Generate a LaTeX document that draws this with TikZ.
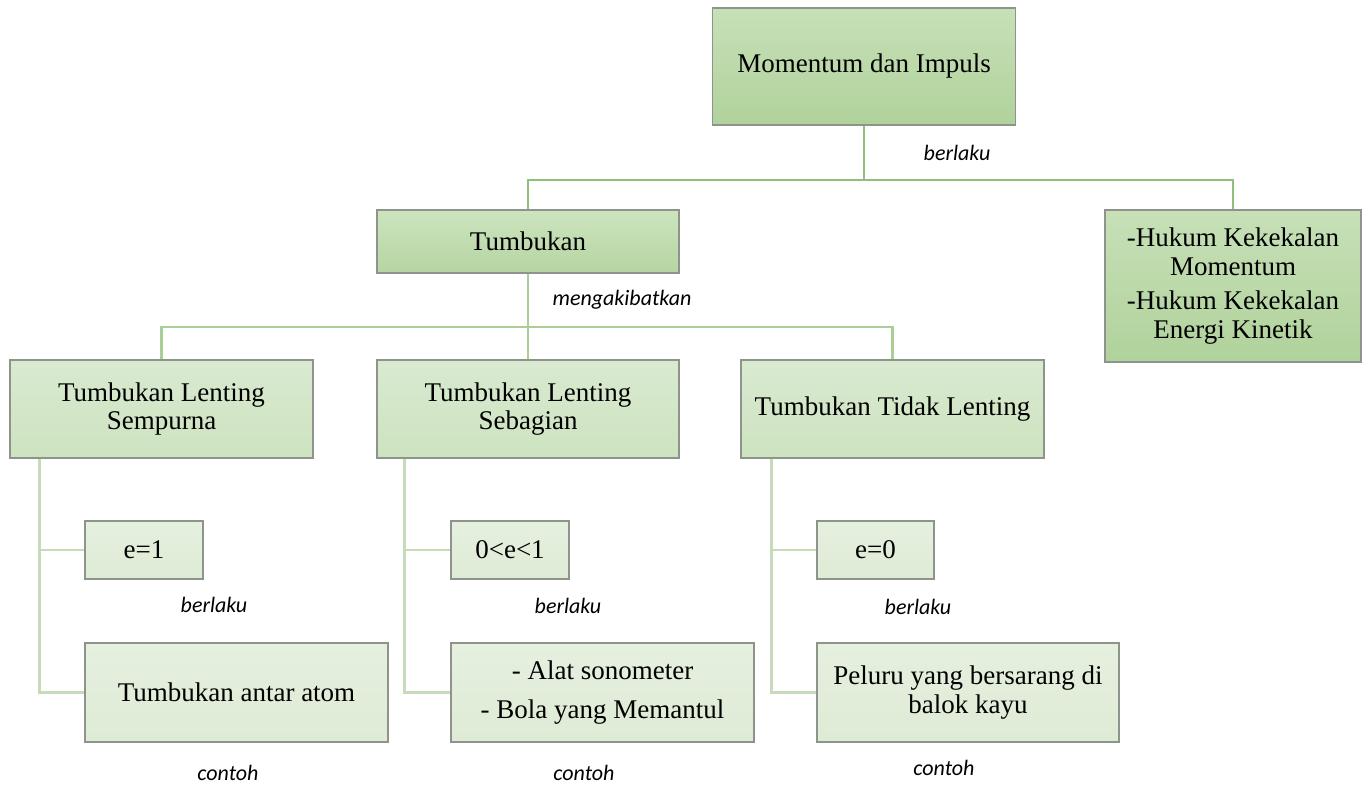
\documentclass[tikz,border=0pt]{standalone}
\usepackage{fontspec}
\setmainfont{Liberation Serif}
\newfontfamily\labelfont{Carlito}
\begin{document}
\begin{tikzpicture}[x=1pt,y=-1pt,
  box/.style={rectangle, draw=boxedge, line width=1.2pt, align=center,
    font=\fontsize{27}{28.5}\selectfont, inner sep=3pt},
  darkbox/.style={box, top color=gA, bottom color=gB},
  midbox/.style={box, top color=mA, bottom color=mB},
  lightbox/.style={box, top color=lA, bottom color=lB},
  palebox/.style={box, top color=pA, bottom color=pB},
  linkA/.style={draw=lineA, line width=2.6pt},
  linkB/.style={draw=lineB, line width=2.6pt},
  linkC/.style={draw=lineC, line width=2.6pt},
  tag/.style={font=\labelfont\itshape\fontsize{22}{26}\selectfont, inner sep=0pt}]
\definecolor{boxedge}{HTML}{8E948B}
\definecolor{gA}{HTML}{C7E0B8}
\definecolor{gB}{HTML}{B0D29B}
\definecolor{mA}{HTML}{CDE4BF}
\definecolor{mB}{HTML}{B5D5A2}
\definecolor{lA}{HTML}{D9EAD0}
\definecolor{lB}{HTML}{CDE3C0}
\definecolor{pA}{HTML}{E5F0DF}
\definecolor{pB}{HTML}{DEEBD5}
\definecolor{lineA}{HTML}{8FC07A}
\definecolor{lineB}{HTML}{A9CF96}
\definecolor{lineC}{HTML}{C6DCB9}

\useasboundingbox (0,0) rectangle (1363,785);

% top level
\node[darkbox, minimum width=303, minimum height=117] (top) at (864,66.5) {Momentum dan Impuls};
\node[midbox, minimum width=302, minimum height=63] (tumb) at (528,241.5) {Tumbukan};
\node[darkbox, minimum width=256, minimum height=152] (hk) at (1233,286)
  {-Hukum Kekekalan\\Momentum\\[6pt]-Hukum Kekekalan\\Energi Kinetik};

% kinds of collision
\node[lightbox, minimum width=303, minimum height=98] (ls) at (161.5,409) {Tumbukan Lenting\\Sempurna};
\node[lightbox, minimum width=302, minimum height=98] (lsb) at (528,409) {Tumbukan Lenting\\Sebagian};
\node[lightbox, minimum width=303, minimum height=98] (tl) at (892.5,409) {Tumbukan Tidak Lenting};

% coefficients
\node[palebox, minimum width=118, minimum height=58] (e1) at (144,550) {e=1};
\node[palebox, minimum width=118, minimum height=58] (e01) at (510,550) {0<e<1};
\node[palebox, minimum width=117, minimum height=58] (e0) at (875.5,550) {e=0};

% examples
\node[palebox, minimum width=303, minimum height=99] (ta) at (236.5,692.5) {Tumbukan antar atom};
\node[palebox, minimum width=303, minimum height=99] (as) at (602.5,692.5) {- Alat sonometer\\[10pt]- Bola yang Memantul};
\node[palebox, minimum width=302, minimum height=99] (pb) at (968,692.5) {Peluru yang bersarang di\\balok kayu};

% connectors
\coordinate (b1) at (864,180);
\coordinate (b2) at (527,327);
\draw[linkA] (top.south) -- (b1);
\draw[linkA] (tumb.north) |- (b1) -| (hk.north);
\draw[linkB] (tumb.south) -- (lsb.north);
\draw[linkB] (ls.north) |- (b2) -| (tl.north);
\draw[linkC] ([xshift=30]ls.south west) |- (e1.west);
\draw[linkC] ([xshift=30]ls.south west) |- (ta.west);
\draw[linkC] ([xshift=28]lsb.south west) |- (e01.west);
\draw[linkC] ([xshift=28]lsb.south west) |- (as.west);
\draw[linkC] ([xshift=31]tl.south west) |- (e0.west);
\draw[linkC] ([xshift=31]tl.south west) |- (pb.west);

% relation labels
\node[tag] (t1) at (957,153) {berlaku};
\node[tag] (t2) at (622,300) {mengakibatkan};
\node[tag] (t3) at (214,605) {berlaku};
\node[tag] (t4) at (568,606) {berlaku};
\node[tag] (t5) at (918,607) {berlaku};
\node[tag] (t6) at (228,773) {contoh};
\node[tag] (t7) at (584,773) {contoh};
\node[tag] (t8) at (944,768) {contoh};
\end{tikzpicture}
\end{document}
